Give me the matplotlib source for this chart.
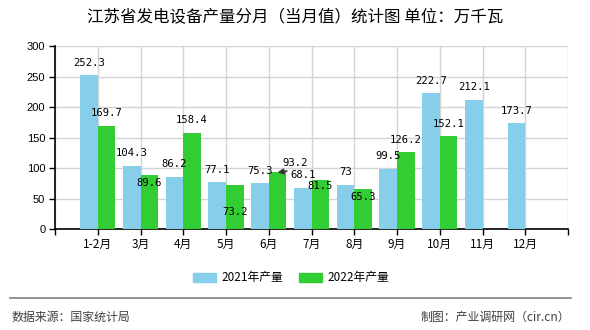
import matplotlib
matplotlib.use("Agg")
import matplotlib.pyplot as plt
from matplotlib.patches import Patch
from matplotlib.lines import Line2D
import numpy as np

plt.rcParams['font.family'] = ['Noto Sans CJK SC', 'DejaVu Sans']

months = ["1-2月", "3月", "4月", "5月", "6月", "7月", "8月", "9月", "10月", "11月", "12月"]
output_2021 = [252.3, 104.3, 86.2, 77.1, 75.3, 68.1, 73, 99.5, 222.7, 212.1, 173.7]
output_2022 = [169.7, 89.6, 158.4, 73.2, 93.2, 81.5, 65.3, 126.2, 152.1]
series_names = ["2021年产量", "2022年产量"]

BLUE = "#87CEEB"
GREEN = "#32CD32"
W = 0.41

# label offsets (points) where the default spot would collide
nudge_2022 = {1: (0, -5.8), 3: (0, -19.5), 5: (0, -4.8), 6: (0, -5.8)}

fig = plt.figure(figsize=(5.9, 3.3), dpi=100)
ax = fig.add_axes([55/590, 1 - 229.3/330, 513/590, (229.3 - 46)/330])

x = np.arange(1, len(months) + 1)
x22 = x[:len(output_2022)]
ax.bar(x - W/2, output_2021, W, color=BLUE, zorder=3)
ax.bar(x22 + W/2, output_2022, W, color=GREEN, zorder=3)

lab_font = dict(family='DejaVu Sans Mono', fontsize=7.6, color='black')
for xi, v in zip(x, output_2021):
    ax.annotate(f"{v:g}", (xi - W/2, v), xytext=(0, 9), textcoords='offset points',
                ha='center', va='center', zorder=5, **lab_font)
for i, (xi, v) in enumerate(zip(x22, output_2022)):
    if i == 4:
        ax.annotate(f"{v:g}", (xi + W/2, v), xytext=(12.5, 6.5), textcoords='offset points',
                    ha='center', va='center', zorder=5,
                    arrowprops=dict(arrowstyle='-|>', color='#333333', lw=1.2,
                                    relpos=(1, 0), shrinkA=0, shrinkB=0, mutation_scale=8),
                    **lab_font)
        continue
    dx, dy = nudge_2022.get(i, (0, 9))
    ax.annotate(f"{v:g}", (xi + W/2, v), xytext=(dx, dy), textcoords='offset points',
                ha='center', va='center', zorder=5, **lab_font)

ax.set_xlim(0, 12)
ax.set_ylim(0, 300)
ax.set_yticks(np.arange(0, 301, 50))
ax.set_xticks(np.arange(0, 13))
ax.set_xticklabels([""] + months + [""], fontsize=8.5)
ax.tick_params(axis='y', labelsize=8, length=4, width=1, pad=3)
ax.tick_params(axis='x', length=4, width=1, pad=2)
for lab in ax.get_yticklabels():
    lab.set_family('Liberation Sans')
ax.grid(True, color='#d3d3d3', lw=1, zorder=0)
ax.spines['top'].set_visible(False)
ax.spines['right'].set_visible(False)
ax.spines['left'].set_linewidth(1.2)
ax.spines['bottom'].set_linewidth(1.2)

fig.text(295/590, 1 - 17/330, "江苏省发电设备产量分月（当月值）统计图 单位：万千瓦",
         ha='center', va='center', fontsize=11.9, color='black')

handles = [Patch(color=BLUE), Patch(color=GREEN)]
fig.legend(handles, series_names, loc='center', bbox_to_anchor=(291/590, 1 - 278/330),
           ncol=2, frameon=False, fontsize=8.5, handlelength=1.9, handleheight=0.7,
           handletextpad=0.45, columnspacing=1.4)

fig.add_artist(Line2D([10/590, 571/590], [1 - 298/330, 1 - 298/330],
                      color='#808080', lw=1.2, transform=fig.transFigure))
fig.text(12/590, 1 - 317/330, "数据来源：国家统计局", ha='left', va='center',
         fontsize=8.6, color='#404040')
fig.text(570/590, 1 - 317/330, "制图：产业调研网（cir.cn）", ha='right', va='center',
         fontsize=8.6, color='#404040')

fig.savefig("out.png", dpi=100)
